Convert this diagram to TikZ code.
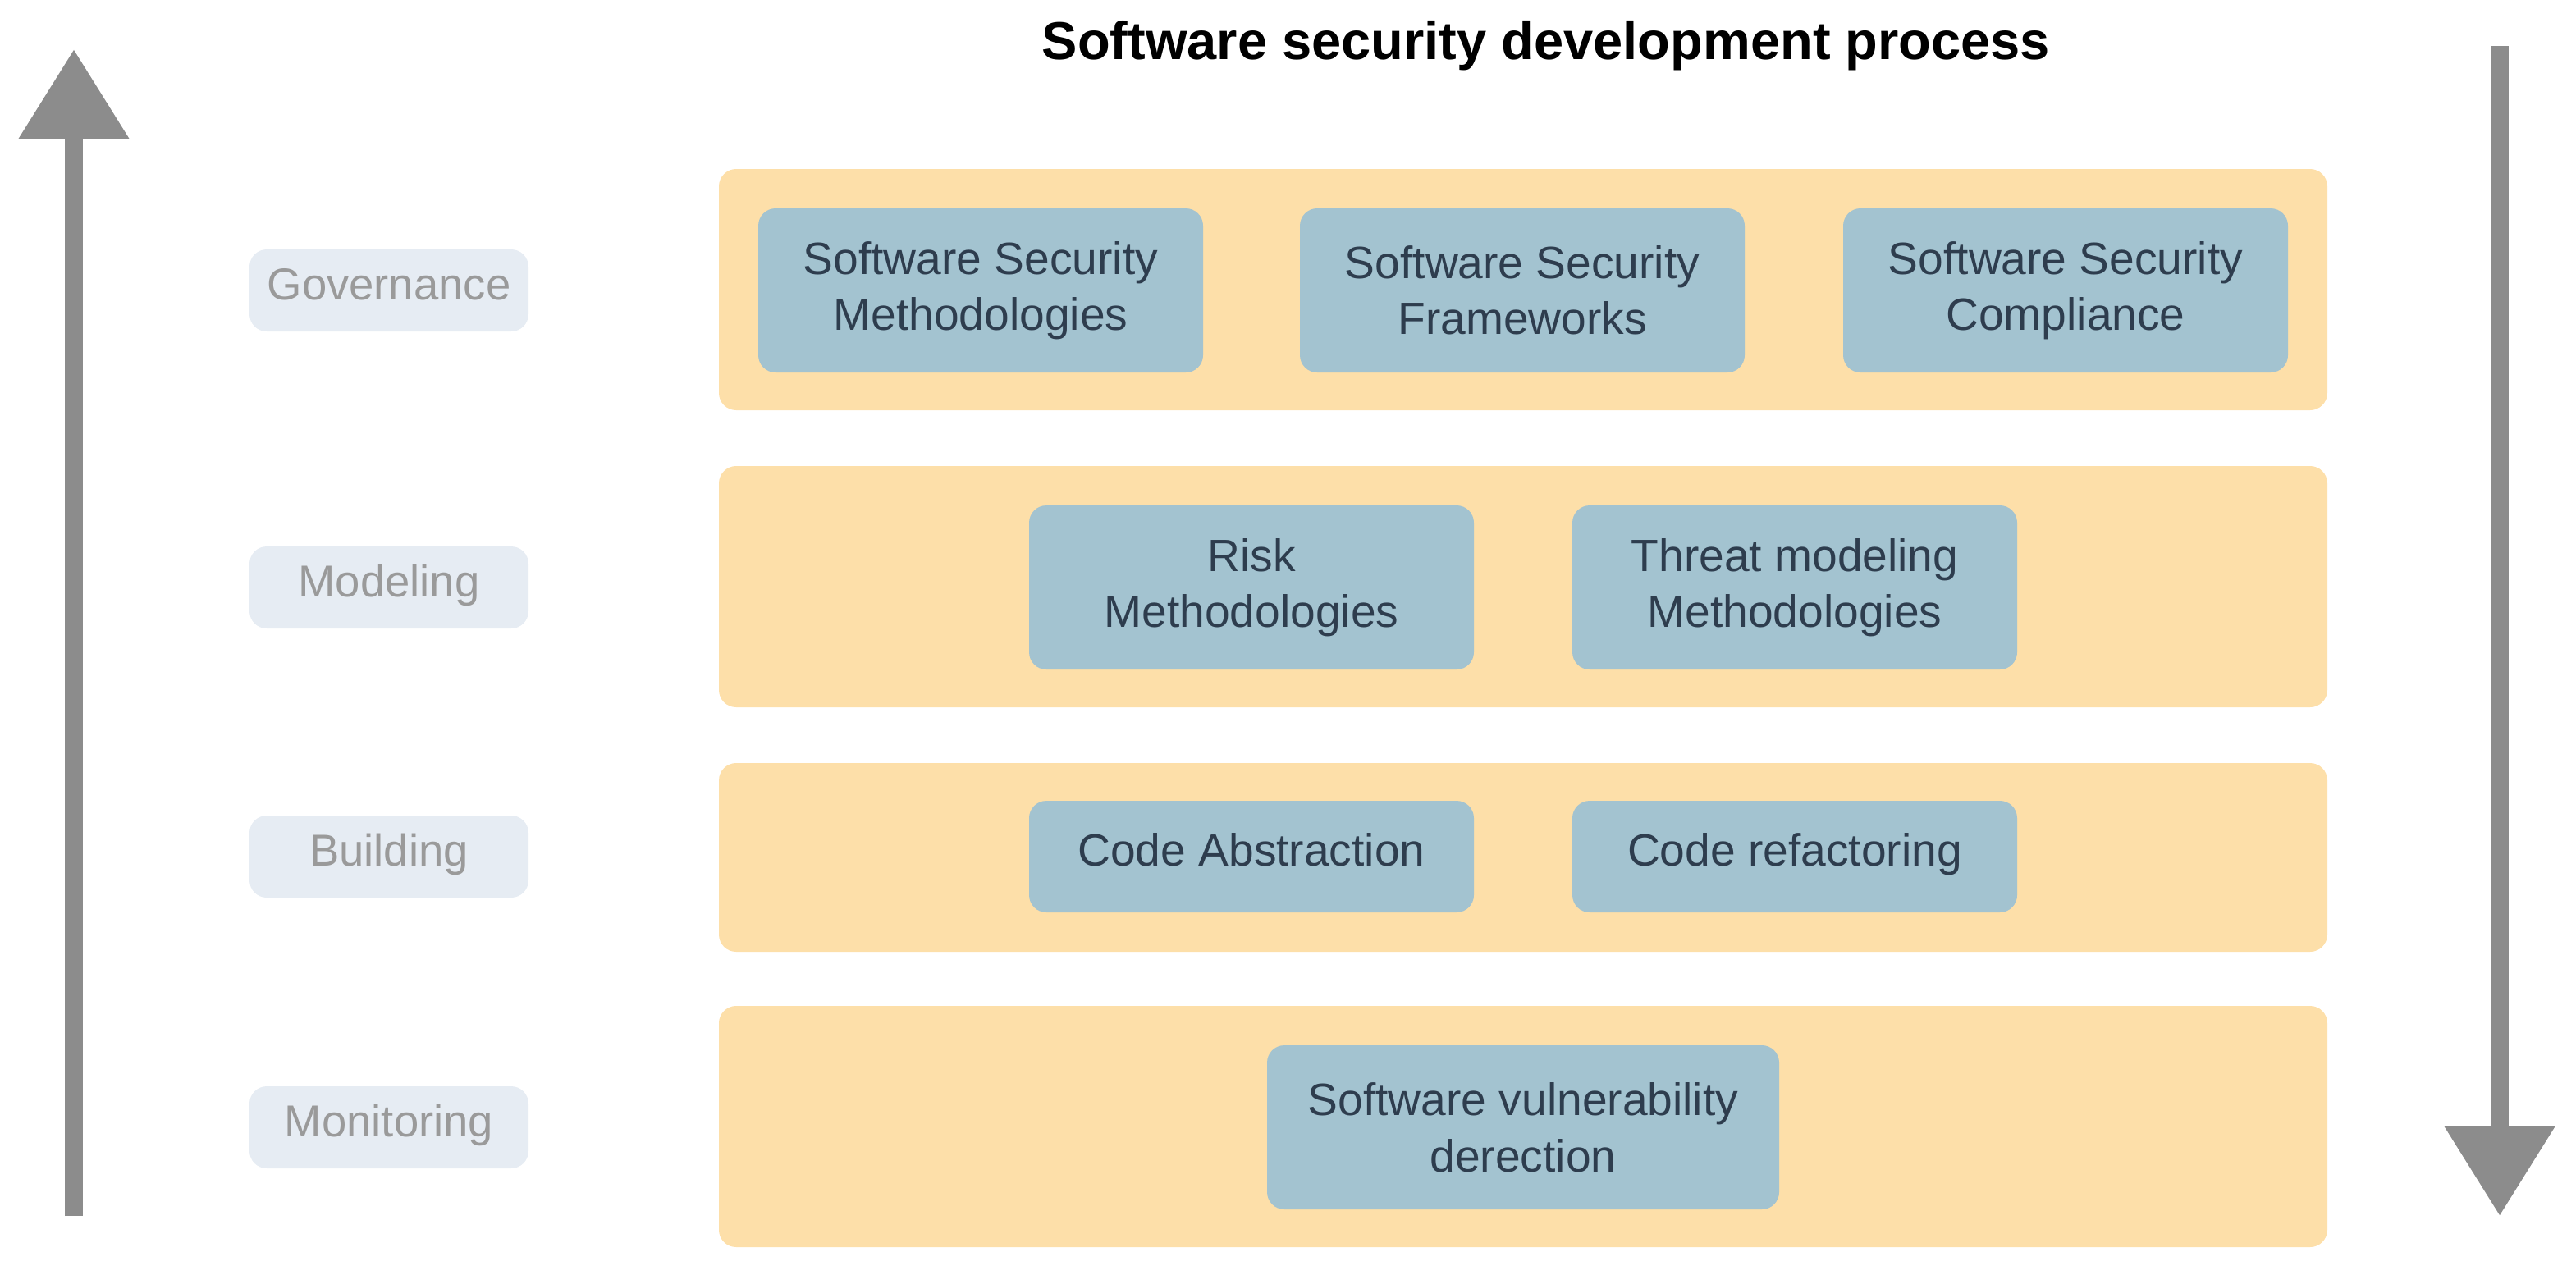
\documentclass[tikz,border=0pt]{standalone}
\usepackage{fontspec}
\setmainfont{Liberation Sans}
\usetikzlibrary{arrows.meta}
\definecolor{band}{HTML}{FDDFA9}
\definecolor{bbox}{HTML}{A3C3D0}
\definecolor{lbl}{HTML}{E6ECF3}
\definecolor{lbltxt}{HTML}{9A9A9A}
\definecolor{boxtxt}{HTML}{2E3D4E}
\definecolor{arr}{HTML}{8C8C8C}
\tikzset{
  bandbox/.style={fill=band,draw=none,rounded corners=6pt},
  item/.style={fill=bbox,draw=none,rounded corners=6pt,align=center,text=boxtxt,font=\fontsize{15.7}{19.5}\selectfont},
  one/.style={text height=1.6ex,text depth=0.4ex},
  lblbox/.style={fill=lbl,draw=none,rounded corners=6pt,text=lbltxt,font=\fontsize{15.5}{19}\selectfont},
  bigarrow/.style={draw=arr,line width=6.3pt,-{Triangle[length=1.1cm,width=1.3cm]}}
}
\begin{document}
\begin{tikzpicture}[x=0.02cm,y=-0.02cm]
\useasboundingbox (0,0) rectangle (1569.5,776.5);
\node[font=\fontsize{18.5}{22}\selectfont\bfseries] (title) at (942,28) {Software security development process};
\coordinate (ub) at (45,741); \coordinate (ut) at (45,30);
\draw[bigarrow] (ub) -- (ut);
\coordinate (dt) at (1523,28); \coordinate (db) at (1523,741);
\draw[bigarrow] (dt) -- (db);
% bands
\path[bandbox] (438,103) rectangle (1418,250);
\path[bandbox] (438,284) rectangle (1418,431);
\path[bandbox] (438,465) rectangle (1418,580);
\path[bandbox] (438,613) rectangle (1418,760);
% labels
\path[lblbox] (152,152) rectangle (322,202) node[midway,one] (g) {Governance};
\path[lblbox] (152,333) rectangle (322,383) node[midway,one] (m) {Modeling};
\path[lblbox] (152,497) rectangle (322,547) node[midway,one] (b) {Building};
\path[lblbox] (152,662) rectangle (322,712) node[midway,one] (mo) {Monitoring};
% items
\path[item] (462,127) rectangle (733,227) node[midway,item,fill=none] (a1) {Software Security\\Methodologies};
\path[item] (792,127) rectangle (1063,227) node[midway,item,fill=none] (a2) {Software Security\\Frameworks};
\path[item] (1123,127) rectangle (1394,227) node[midway,item,fill=none] (a3) {Software Security\\Compliance};
\path[item] (627,308) rectangle (898,408) node[midway,item,fill=none] (b1) {Risk\\Methodologies};
\path[item] (958,308) rectangle (1229,408) node[midway,item,fill=none] (b2) {Threat modeling\\Methodologies};
\path[item] (627,488) rectangle (898,556) node[midway,item,fill=none,one] (c1) {Code Abstraction};
\path[item] (958,488) rectangle (1229,556) node[midway,item,fill=none,one] (c2) {Code refactoring};
\path[item] (772,637) rectangle (1084,737) node[midway,item,fill=none] (d1) {Software vulnerability\\derection};
\end{tikzpicture}
\end{document}
